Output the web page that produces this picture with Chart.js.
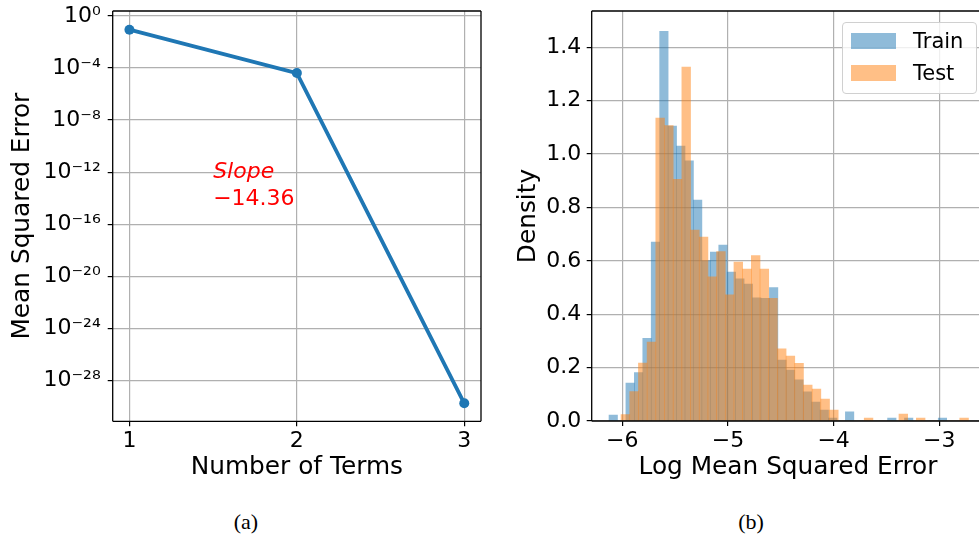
<!DOCTYPE html>
<html>
<head>
<meta charset="utf-8">
<script src="https://cdn.jsdelivr.net/npm/chart.js@4.4.1/dist/chart.umd.min.js"></script>
<style>
  body { margin: 0; background: #fff; width: 979px; height: 539px; position: relative; overflow: hidden; font-family: "DejaVu Sans", sans-serif; }
  canvas { position: absolute; top: 0; }
  #terms { left: 0; }
  #hist { left: 500px; }
  .caption { position: absolute; top: 509px; width: 60px; text-align: center; font: 22px "Liberation Serif", "Times New Roman", serif; color: #000; }
  #legend { position: absolute; left: 842px; top: 21.5px; width: 133px; height: 70px; border: 1px solid #d0d0d0; border-radius: 4px; background: rgba(255,255,255,0.8); }
  #legend .item { position: absolute; left: 8px; height: 24px; font-size: 21px; line-height: 24px; color: #000; white-space: nowrap; }
  #legend .swatch { display: inline-block; width: 45px; height: 16px; margin-right: 17px; vertical-align: -1px; }
</style>
</head>
<body>
<canvas id="terms" width="490" height="500"></canvas>
<canvas id="hist" width="485" height="500"></canvas>
<div id="legend"></div>
<div class="caption" style="left:216px">(a)</div>
<div class="caption" style="left:721px">(b)</div>
<script>
// (a) error against number of terms
const terms = [1, 2, 3];
const mse = [8.9e-2, 4.1e-5, 1.7e-30];
const termTicks = [1, 2, 3];
const mseTickExps = [0, -4, -8, -12, -16, -20, -24, -28];
const slopeLabel = ["Slope", "\u221214.36"];
const slopeAt = [1.5, 1e-12];

// (b) histograms of log MSE, 40 bins per split
const seriesNames = ["Train", "Test"];
const trainRange = [-6.126, -2.930];
const testRange = [-6.012, -2.724];
const trainDensity = [
  0.022, 0, 0.142, 0.181, 0.31, 0.67, 1.46, 1.105, 1.03, 0.975,
  0.828, 0.60, 0.633, 0.659, 0.558, 0.533, 0.513, 0.461, 0.46, 0.50,
  0.228, 0.191, 0.154, 0.109, 0.071, 0.041, 0.011, 0, 0.034, 0,
  0, 0, 0, 0.011, 0, 0.011, 0, 0, 0, 0.011
];
const testDensity = [
  0.024, 0.11, 0.217, 0.296, 1.135, 1.107, 0.905, 1.326, 0.715, 0.689,
  0.54, 0.635, 0.473, 0.595, 0.569, 0.62, 0.569, 0.46, 0.27, 0.243,
  0.216, 0.135, 0.12, 0.082, 0.041, 0, 0, 0, 0.011, 0,
  0, 0, 0.026, 0, 0.011, 0, 0, 0, 0, 0.011
];
const densityTicks = [0, 0.2, 0.4, 0.6, 0.8, 1.0, 1.2, 1.4];
const logTicks = [-6, -5, -4, -3];

const blue = "#1f77b4";
const fills = ["rgba(31,119,180,0.5)", "rgba(255,127,14,0.5)"];
const gridColor = "#b0b0b0";
const tickFont = { size: 22 };
const titleFont = { size: 24.8 };

Chart.defaults.font.family = '"DejaVu Sans"';
Chart.defaults.color = "#000";

const SUP = { "-": "\u207b", "0": "\u2070", "1": "\u00b9", "2": "\u00b2", "3": "\u00b3",
  "4": "\u2074", "5": "\u2075", "6": "\u2076", "7": "\u2077", "8": "\u2078", "9": "\u2079" };
const sup = n => String(n).split("").map(c => SUP[c]).join("");
const minus = v => (v < 0 ? "\u2212" : "") + Math.abs(v);

function binCenters(range, n) {
  const w = (range[1] - range[0]) / n;
  return Array.from({ length: n }, (_, i) => range[0] + w * (i + 0.5));
}

// fixed axis boxes: no extra room for labels hanging past the plot edges
const fixWidth = w => s => { s.width = w; s.paddingTop = 0; s.paddingBottom = 0; };
const fixHeight = h => s => { s.height = h; s.paddingLeft = 0; s.paddingRight = 0; };

// spines drawn over the data, like matplotlib
const frame = {
  id: "frame",
  afterDatasetsDraw(chart, args, opts) {
    const { ctx, chartArea: a } = chart;
    ctx.save();
    ctx.strokeStyle = "#000";
    ctx.lineWidth = 1.3;
    ctx.beginPath();
    if (opts.sides.includes("left")) { ctx.moveTo(a.left, a.top); ctx.lineTo(a.left, a.bottom); }
    if (opts.sides.includes("bottom")) { ctx.moveTo(a.left, a.bottom); ctx.lineTo(a.right, a.bottom); }
    if (opts.sides.includes("top")) { ctx.moveTo(a.left, a.top); ctx.lineTo(a.right, a.top); }
    if (opts.sides.includes("right")) { ctx.moveTo(a.right, a.top); ctx.lineTo(a.right, a.bottom); }
    ctx.stroke();
    ctx.restore();
  }
};

const slopeNote = {
  id: "slopeNote",
  afterDatasetsDraw(chart) {
    const { ctx, scales } = chart;
    const px = scales.x.getPixelForValue(slopeAt[0]);
    const py = scales.y.getPixelForValue(slopeAt[1]);
    ctx.save();
    ctx.fillStyle = "#ff0000";
    ctx.textBaseline = "middle";
    ctx.font = 'italic 22px "DejaVu Sans"';
    ctx.fillText(slopeLabel[0], px, py);
    ctx.font = '22px "DejaVu Sans"';
    ctx.fillText(slopeLabel[1], px, py + 27);
    ctx.restore();
  }
};

const grid = { color: gridColor, lineWidth: 1.2, tickColor: "#000", tickWidth: 1.2, tickLength: 5 };

new Chart(document.getElementById("terms"), {
  type: "line",
  data: {
    datasets: [{
      data: terms.map((t, i) => ({ x: t, y: mse[i] })),
      borderColor: blue,
      backgroundColor: blue,
      borderWidth: 3.8,
      pointRadius: 5,
      pointHoverRadius: 5,
      pointBorderWidth: 0,
      tension: 0
    }]
  },
  options: {
    responsive: false,
    animation: false,
    layout: { padding: { top: 11, right: 9, bottom: 18, left: 0 } },
    plugins: { legend: { display: false }, tooltip: { enabled: false }, frame: { sides: ["left", "bottom", "top", "right"] } },
    scales: {
      x: {
        type: "linear", min: 0.9, max: 3.1,
        afterBuildTicks: s => { s.ticks = termTicks.map(v => ({ value: v })); },
        afterFit: fixHeight(60.7),
        grid: grid, border: { display: false },
        ticks: { font: tickFont, padding: 2, maxRotation: 0, callback: v => String(v) },
        title: { display: true, text: "Number of Terms", font: titleFont, padding: { top: 0, bottom: 0 } }
      },
      y: {
        type: "logarithmic", min: Math.pow(10, -31.15), max: Math.pow(10, 0.385),
        afterBuildTicks: s => { s.ticks = mseTickExps.map(e => ({ value: Math.pow(10, e) })); },
        afterFit: fixWidth(112.7),
        grid: grid, border: { display: false },
        ticks: { font: tickFont, padding: 7, callback: v => "10" + sup(Math.round(Math.log10(v))) },
        title: { display: true, text: "Mean Squared Error", font: titleFont, padding: { top: 7.2, bottom: 0 } }
      }
    }
  },
  plugins: [frame, slopeNote]
});

const splits = [
  { centers: binCenters(trainRange, trainDensity.length), values: trainDensity, axis: "x", order: 1 },
  { centers: binCenters(testRange, testDensity.length), values: testDensity, axis: "x2", order: 0 }
];

// the histogram axes run a few pixels past the page edge
new Chart(document.getElementById("hist"), {
  type: "bar",
  data: {
    datasets: splits.map((s, k) => ({
      label: seriesNames[k],
      data: s.centers.map((c, i) => ({ x: c, y: s.values[i] })),
      xAxisID: s.axis,
      backgroundColor: fills[k],
      order: s.order
    }))
  },
  options: {
    responsive: false,
    animation: false,
    layout: { padding: { top: 11, right: 0.7, bottom: 18, left: 0 } },
    datasets: { bar: { grouped: false, barPercentage: 1, categoryPercentage: 1, borderWidth: 0 } },
    plugins: { legend: { display: false }, tooltip: { enabled: false }, frame: { sides: ["left", "bottom", "top", "right"] } },
    scales: {
      x: {
        type: "linear", min: -6.29, max: -2.574, offset: false,
        afterBuildTicks: s => { s.ticks = logTicks.map(v => ({ value: v })); },
        afterFit: fixHeight(61),
        grid: Object.assign({ offset: false }, grid), border: { display: false },
        ticks: { font: tickFont, padding: 2, maxRotation: 0, callback: v => minus(v) },
        title: { display: true, text: "Log Mean Squared Error", font: titleFont, padding: { top: 0, bottom: 0 } }
      },
      x2: { type: "linear", min: -6.29, max: -2.574, offset: false, display: false, grid: { offset: false } },
      y: {
        min: 0, max: 1.536,
        afterBuildTicks: s => { s.ticks = densityTicks.map(v => ({ value: v })); },
        afterFit: fixWidth(91.7),
        grid: grid, border: { display: false },
        ticks: { font: tickFont, padding: 5.5, callback: v => v.toFixed(1) },
        title: { display: true, text: "Density", font: titleFont, padding: { top: 13.2, bottom: 0 } }
      }
    }
  },
  plugins: [frame]
});

// legend box for the histogram panel
const legend = document.getElementById("legend");
seriesNames.forEach((name, k) => {
  const item = document.createElement("div");
  item.className = "item";
  item.style.top = (6 + 32.7 * k) + "px";
  const sw = document.createElement("span");
  sw.className = "swatch";
  sw.style.background = fills[k];
  item.appendChild(sw);
  item.appendChild(document.createTextNode(name));
  legend.appendChild(item);
});
</script>
</body>
</html>
